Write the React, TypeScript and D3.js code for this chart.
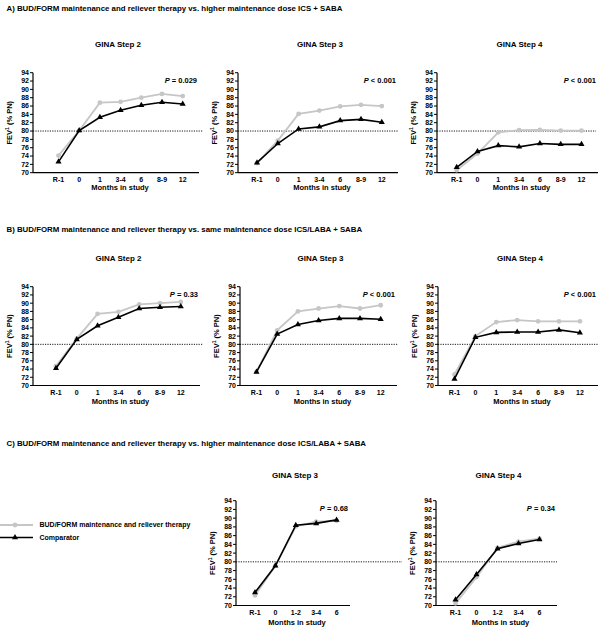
import React from "react";
import * as d3 from "d3";

const catsAB = ["R-1", "0", "1", "3-4", "6", "8-9", "12"];
const catsC = ["R-1", "0", "1-2", "3-4", "6"];
const yTicks = d3.range(70, 95, 2);

const a2Gray = [74.1, 80.1, 86.8, 87.0, 88.0, 88.9, 88.4];
const a2Black = [72.6, 80.1, 83.3, 85.0, 86.2, 86.9, 86.5];
const a3Gray = [72.3, 77.7, 84.1, 84.9, 85.9, 86.3, 86.0];
const a3Black = [72.4, 77.0, 80.5, 81.0, 82.5, 82.8, 82.1];
const a4Gray = [70.6, 74.6, 79.7, 80.2, 80.3, 80.1, 80.1];
const a4Black = [71.3, 75.1, 76.5, 76.2, 77.0, 76.8, 76.8];

const b2Gray = [74.7, 81.4, 87.4, 87.9, 89.7, 90.0, 90.3];
const b2Black = [74.2, 81.2, 84.5, 86.6, 88.7, 89.0, 89.2];
const b3Gray = [73.3, 83.4, 88.0, 88.7, 89.3, 88.7, 89.5];
const b3Black = [73.3, 82.5, 84.8, 85.8, 86.3, 86.3, 86.1];
const b4Gray = [72.7, 82.0, 85.4, 85.9, 85.6, 85.6, 85.6];
const b4Black = [71.6, 81.7, 82.9, 83.0, 83.0, 83.5, 82.8];

const c3Gray = [72.3, 79.1, 88.1, 89.2, 89.4];
const c3Black = [73.0, 79.1, 88.4, 88.8, 89.6];
const c4Gray = [70.5, 76.5, 83.2, 84.6, 85.3];
const c4Black = [71.3, 77.1, 83.0, 84.2, 85.1];

const sectionTitles = [
  "A) BUD/FORM maintenance and reliever therapy vs. higher maintenance dose ICS + SABA",
  "B) BUD/FORM maintenance and reliever therapy vs. same maintenance dose ICS/LABA + SABA",
  "C) BUD/FORM maintenance and reliever therapy vs. higher maintenance dose ICS/LABA + SABA",
];
const legendLabels = ["BUD/FORM maintenance and reliever therapy", "Comparator"];

const FONT = "'Liberation Sans', Arial, sans-serif";
const GRAY = "#c6c6c6";

type PanelProps = {
  title: string;
  pOp: string;
  cats: string[];
  gray: number[];
  black: number[];
  axisX: number;
  firstX: number;
  step: number;
  endX: number;
  dotEnd: number;
  top: number;
  bottom: number;
  titleY: number;
  tickLabelGap: number;
  xTitleGap: number;
};

function Panel(p: PanelProps) {
  const n = p.cats.length;
  const x = d3.scaleLinear().domain([0, n - 1]).range([p.firstX, p.firstX + p.step * (n - 1)]);
  const y = d3.scaleLinear().domain([70, 94]).range([p.bottom, p.top]);
  const line = d3
    .line<number>()
    .x((_, i) => x(i))
    .y((d) => y(d));
  const tri = d3.symbol().type(d3.symbolTriangle).size(16)();
  const midX = (p.axisX + p.endX) / 2;
  return (
    <g fontFamily={FONT}>
      <text x={midX + 2} y={p.titleY} fontSize={8} fontWeight="bold" textAnchor="middle">
        {p.title}
      </text>
      <text x={p.endX - 2} y={p.top + 10} fontSize={7.5} fontWeight="bold" textAnchor="end">
        <tspan fontStyle="italic">P</tspan>
        {" " + p.pOp}
      </text>
      {/* y axis */}
      <line x1={p.axisX} x2={p.axisX} y1={p.top} y2={p.bottom} stroke="#000" strokeWidth={1.2} />
      {yTicks.map((t) => (
        <g key={t}>
          <line x1={p.axisX - 3} x2={p.axisX} y1={y(t)} y2={y(t)} stroke="#000" strokeWidth={1} />
          <text x={p.axisX - 4} y={y(t)} dy="0.35em" fontSize={7} fontWeight="bold" textAnchor="end">
            {t}
          </text>
        </g>
      ))}
      {/* x axis */}
      <line x1={p.axisX} x2={p.endX} y1={p.bottom} y2={p.bottom} stroke="#000" strokeWidth={1.2} />
      {p.cats.map((c, i) => (
        <text key={c} x={x(i)} y={p.bottom + p.tickLabelGap} fontSize={7} fontWeight="bold" textAnchor="middle">
          {c}
        </text>
      ))}
      <text x={(p.axisX + p.endX) / 2 + 4} y={p.bottom + p.xTitleGap} fontSize={7.5} fontWeight="bold" textAnchor="middle">
        Months in study
      </text>
      <text
        transform={`translate(${p.axisX - 21},${(p.top + p.bottom) / 2}) rotate(-90)`}
        fontSize={7.5}
        fontWeight="bold"
        textAnchor="middle"
      >
        FEV<tspan fontSize={5} dy={-3}>1</tspan>
        <tspan dy={3}> (% PN)</tspan>
      </text>
      {/* reference line */}
      <line x1={p.axisX} x2={p.dotEnd} y1={y(80)} y2={y(80)} stroke="#000" strokeWidth={0.9} strokeDasharray="1.2,1.2" />
      {/* gray series */}
      <path d={line(p.gray) || ""} fill="none" stroke={GRAY} strokeWidth={1.8} />
      {p.gray.map((v, i) => (
        <circle key={i} cx={x(i)} cy={y(v)} r={2.4} fill={GRAY} />
      ))}
      {/* black series */}
      <path d={line(p.black) || ""} fill="none" stroke="#000" strokeWidth={1.6} />
      {p.black.map((v, i) => (
        <path key={i} d={tri || ""} transform={`translate(${x(i)},${y(v)})`} fill="#000" />
      ))}
    </g>
  );
}

export default function App() {
  const aTop = 72.7,
    aBot = 172.7;
  const bTop = 286.7,
    bBot = 385.5;
  const cTop = 500.7,
    cBot = 605.5;
  return (
    <svg width={600} height={635} style={{ position: "absolute", left: 0, top: 0, background: "#fff" }}>
      <rect width={600} height={635} fill="#fff" />
      <g fontFamily={FONT} fontWeight="bold" fontSize={7.85}>
        <text x={6.5} y={11}>{sectionTitles[0]}</text>
        <text x={6.5} y={232}>{sectionTitles[1]}</text>
        <text x={6.5} y={446}>{sectionTitles[2]}</text>
      </g>

      <Panel title="GINA Step 2" pOp="= 0.029" cats={catsAB} gray={a2Gray} black={a2Black}
        axisX={33} firstX={58.5} step={20.7} endX={199} dotEnd={203} top={aTop} bottom={aBot}
        titleY={47} tickLabelGap={8.8} xTitleGap={16.8} />
      <Panel title="GINA Step 3" pOp="< 0.001" cats={catsAB} gray={a3Gray} black={a3Black}
        axisX={238} firstX={257} step={20.8} endX={398} dotEnd={398} top={aTop} bottom={aBot}
        titleY={47} tickLabelGap={8.8} xTitleGap={16.8} />
      <Panel title="GINA Step 4" pOp="< 0.001" cats={catsAB} gray={a4Gray} black={a4Black}
        axisX={437} firstX={456.7} step={20.8} endX={598} dotEnd={596} top={aTop} bottom={aBot}
        titleY={47} tickLabelGap={8.8} xTitleGap={16.8} />

      <Panel title="GINA Step 2" pOp="= 0.33" cats={catsAB} gray={b2Gray} black={b2Black}
        axisX={33} firstX={56} step={20.8} endX={200} dotEnd={203} top={bTop} bottom={bBot}
        titleY={261} tickLabelGap={9.5} xTitleGap={18.5} />
      <Panel title="GINA Step 3" pOp="< 0.001" cats={catsAB} gray={b3Gray} black={b3Black}
        axisX={240} firstX={256.5} step={20.7} endX={397} dotEnd={398} top={bTop} bottom={bBot}
        titleY={261} tickLabelGap={9.5} xTitleGap={18.5} />
      <Panel title="GINA Step 4" pOp="< 0.001" cats={catsAB} gray={b4Gray} black={b4Black}
        axisX={438} firstX={454.5} step={20.9} endX={598} dotEnd={598} top={bTop} bottom={bBot}
        titleY={261} tickLabelGap={9.5} xTitleGap={18.5} />

      <Panel title="GINA Step 3" pOp="= 0.68" cats={catsC} gray={c3Gray} black={c3Black}
        axisX={236} firstX={255} step={20.4} endX={350} dotEnd={402} top={cTop} bottom={cBot}
        titleY={478} tickLabelGap={9.5} xTitleGap={19.5} />
      <Panel title="GINA Step 4" pOp="= 0.34" cats={catsC} gray={c4Gray} black={c4Black}
        axisX={436} firstX={455.5} step={21} endX={557} dotEnd={557} top={cTop} bottom={cBot}
        titleY={478} tickLabelGap={9.5} xTitleGap={19.5} />

      {/* legend */}
      <g fontFamily={FONT} fontWeight="bold" fontSize={7}>
        <line x1={0} x2={33} y1={525} y2={525} stroke={GRAY} strokeWidth={1.8} />
        <circle cx={15} cy={525} r={2.4} fill={GRAY} />
        <text x={39.5} y={525} dy="0.35em">{legendLabels[0]}</text>
        <line x1={0} x2={33} y1={537.5} y2={537.5} stroke="#000" strokeWidth={1.6} />
        <path d={d3.symbol().type(d3.symbolTriangle).size(16)() || ""} transform="translate(15,537.5)" fill="#000" />
        <text x={39.5} y={537.5} dy="0.35em">{legendLabels[1]}</text>
      </g>
    </svg>
  );
}
